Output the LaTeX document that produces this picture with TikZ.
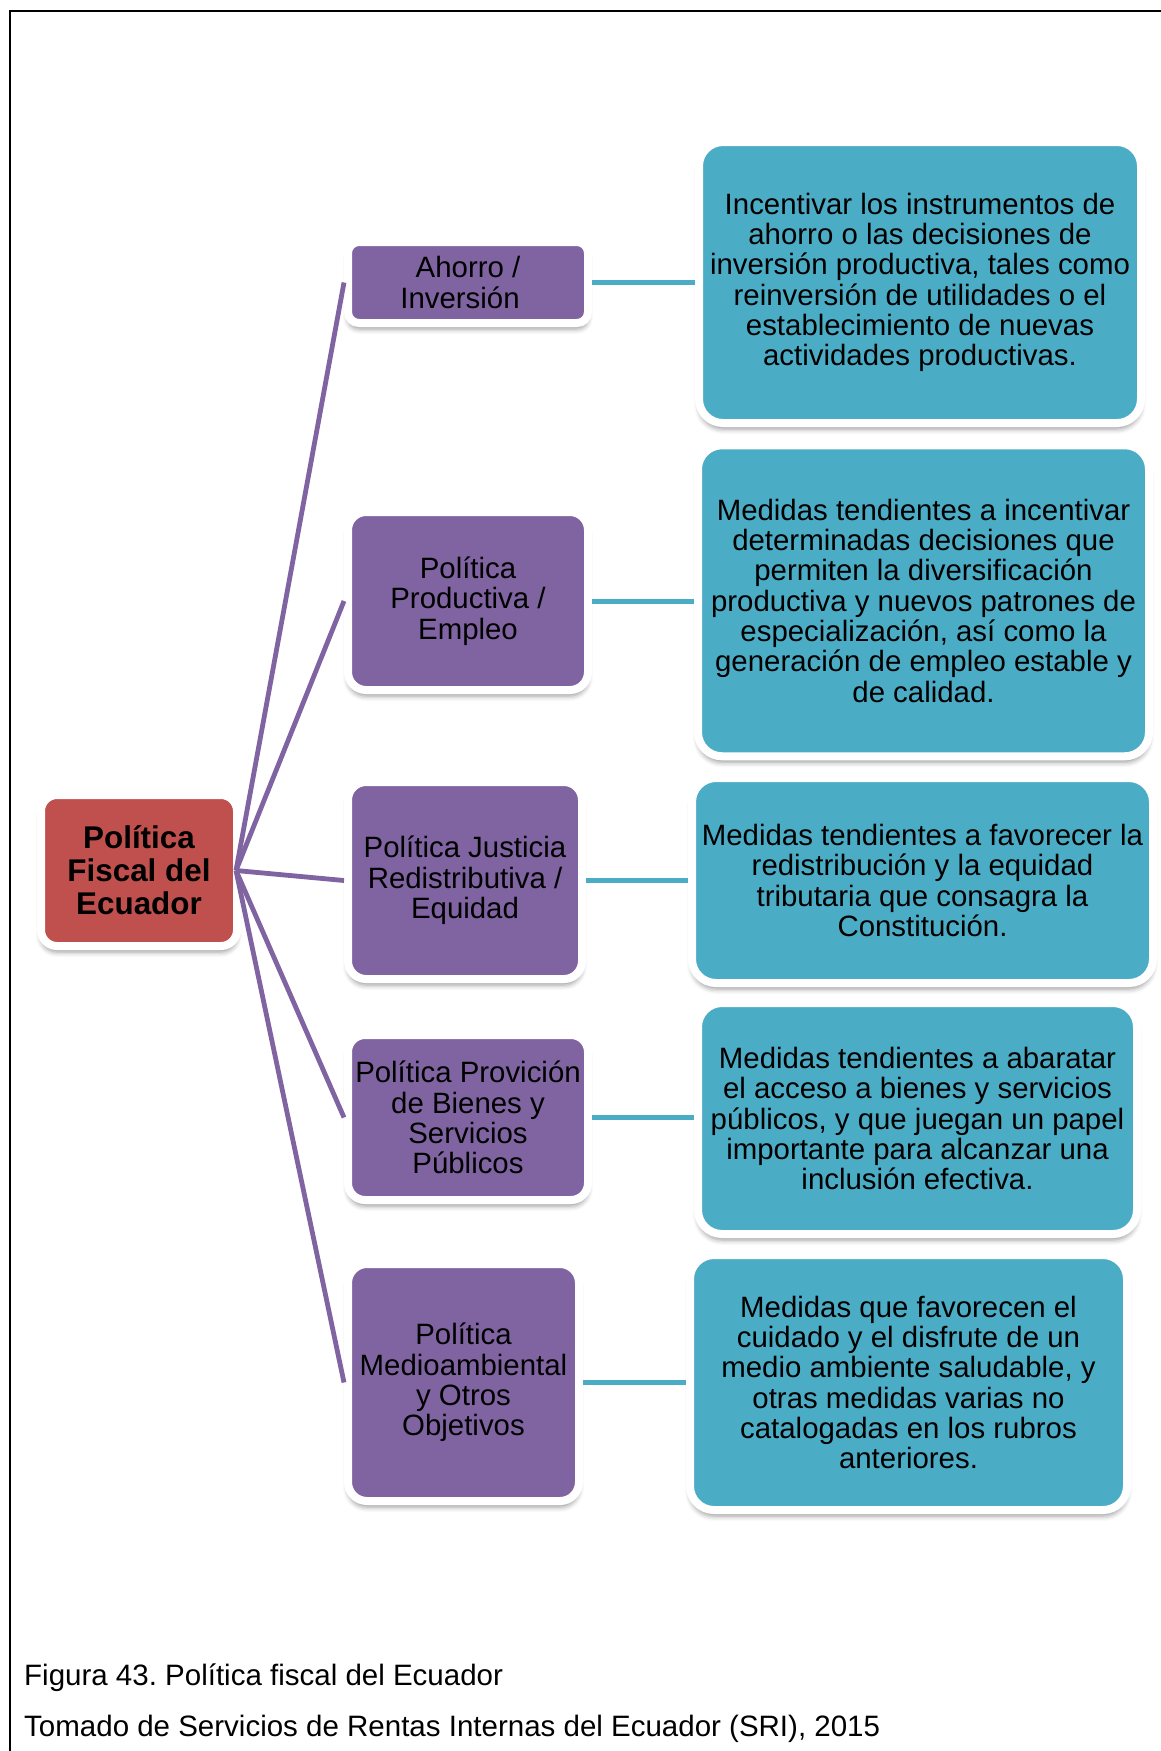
\documentclass[tikz,border=0pt]{standalone}
\usepackage{fontspec}
\setmainfont{Liberation Sans}
\usetikzlibrary{shadows.blur}
\frenchspacing

\definecolor{rootred}{HTML}{C0504D}
\definecolor{topicpurple}{HTML}{8064A2}
\definecolor{infoblue}{HTML}{4BACC6}

\newcommand\cardtext{\fontsize{29.4}{30.3}\selectfont}
\newcommand\roottext{\fontsize{31.4}{33}\selectfont\bfseries}
\newcommand\captiontext{\fontsize{29.5}{34}\selectfont}

\tikzset{
  card/.style={draw=white, line width=8pt, inner sep=0pt, align=center,
    text=black,
    blur shadow={shadow xshift=0pt, shadow yshift=-6pt,
      shadow blur radius=5pt, shadow opacity=40}},
  rootbox/.style={card, fill=rootred, font=\roottext},
  topicbox/.style={card, fill=topicpurple, font=\cardtext},
  infobox/.style={card, fill=infoblue, font=\cardtext},
  trunk/.style={draw=topicpurple, line width=4.8pt},
  twig/.style={draw=infoblue, line width=5pt},
}

\begin{document}
\begin{tikzpicture}[x=1pt, y=-1pt]
\useasboundingbox (0,0) rectangle (1160,1751);

% page frame
\draw[line width=2.5pt] (10,1760) -- (10,11) -- (1170,11);

% root
\node[rootbox, minimum width=196pt, minimum height=151pt, rounded corners=16pt]
  (root) at (139,870.5) {Política\\Fiscal del\\Ecuador};
\coordinate (hub) at ([xshift=-5pt]root.east);

% policy areas
\node[topicbox, minimum width=240pt, minimum height=81pt, rounded corners=11pt]
  (ahorro) at (468,282.5) {Ahorro /\\Inversión\hspace*{16pt}};
\node[topicbox, minimum width=240pt, minimum height=178pt, rounded corners=18pt]
  (productiva) at (468,601) {Política\\Productiva /\\Empleo};
\node[topicbox, minimum width=234pt, minimum height=197pt, rounded corners=18pt]
  (justicia) at (465,880.5) {Política Justicia\\Redistributiva /\\Equidad};
\node[topicbox, minimum width=240pt, minimum height=165pt, rounded corners=17pt]
  (bienes) at (468,1117.5) {Política Provición\\de Bienes y\\Servicios\\Públicos};
\node[topicbox, minimum width=231pt, minimum height=237pt, rounded corners=19pt]
  (ambiente) at (463.5,1382.5) {Política\\Medioambiental\\y Otros\\Objetivos};

% descriptions
\node[infobox, minimum width=442pt, minimum height=281pt, rounded corners=24pt]
  (dAhorro) at (920,282.5) {Incentivar los instrumentos de\\ahorro o las decisiones de\\inversión productiva, tales como\\reinversión de utilidades o el\\establecimiento de nuevas\\actividades productivas.};
\node[infobox, minimum width=451pt, minimum height=311pt, rounded corners=24pt]
  (dProductiva) at (923.5,600.75) {Medidas tendientes a incentivar\\determinadas decisiones que\\permiten la diversificación\\productiva y nuevos patrones de\\especialización, así como la\\generación de empleo estable y\\de calidad.};
\node[infobox, minimum width=461pt, minimum height=205pt, rounded corners=24pt]
  (dJusticia) at (922.5,880.5) {Medidas tendientes a favorecer la\\redistribución y la equidad\\tributaria que consagra la\\Constitución.};
\node[infobox, minimum width=439pt, minimum height=231pt, rounded corners=24pt]
  (dBienes) at (917.5,1118.5) {Medidas tendientes a abaratar\\el acceso a bienes y servicios\\públicos, y que juegan un papel\\importante para alcanzar una\\inclusión efectiva.};
\node[infobox, minimum width=437pt, minimum height=255pt, rounded corners=24pt]
  (dAmbiente) at (908.5,1382.5) {Medidas que favorecen el\\cuidado y el disfrute de un\\medio ambiente saludable, y\\otras medidas varias no\\catalogadas en los rubros\\anteriores.};

% connectors, laid over the white rims
\foreach \t in {ahorro,productiva,justicia,bienes,ambiente}
  \draw[trunk] (hub) -- (\t.west);
\draw[twig] (ahorro.east) -- (ahorro.east -| dAhorro.west);
\draw[twig] (productiva.east) -- (productiva.east -| dProductiva.west);
\draw[twig] (justicia.east) -- (justicia.east -| dJusticia.west);
\draw[twig] (bienes.east) -- (bienes.east -| dBienes.west);
\draw[twig] (ambiente.east) -- (ambiente.east -| dAmbiente.west);

% caption
\node[anchor=base west, inner sep=0pt, font=\captiontext] (cap1) at (24,1685)
  {Figura 43. Política fiscal del Ecuador};
\node[anchor=base west, inner sep=0pt, font=\captiontext] (cap2) at (24,1736)
  {Tomado de Servicios de Rentas Internas del Ecuador (SRI), 2015};
\end{tikzpicture}
\end{document}
